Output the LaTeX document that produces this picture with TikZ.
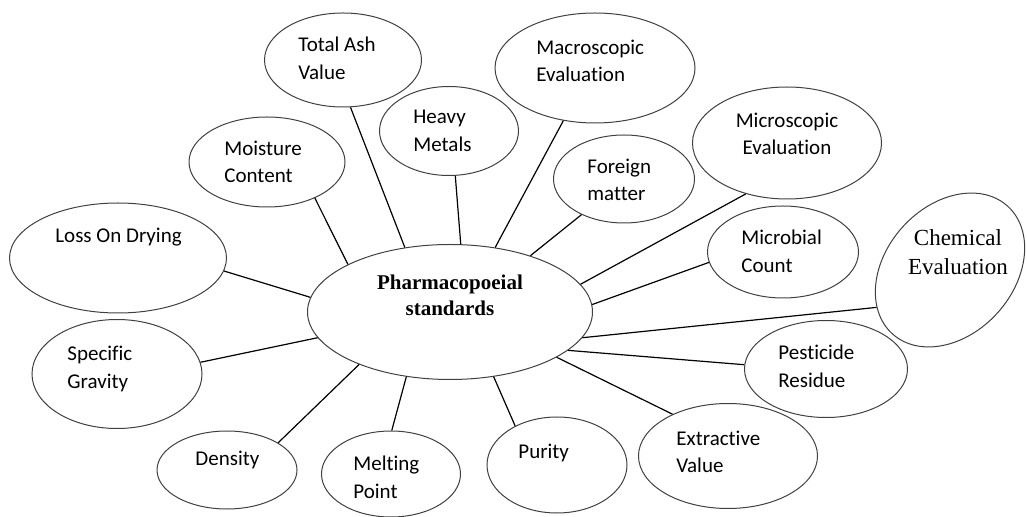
\documentclass[tikz,border=0pt]{standalone}
\usepackage{fontspec}
\setmainfont[Ligatures=NoCommon]{Carlito}
\newfontfamily\timesfont{Liberation Serif}
\usetikzlibrary{shapes.geometric}

\tikzset{
  bubble/.style={ellipse, draw=black!75, line width=0.5pt, inner sep=0pt},
  lbl/.style={anchor=west, align=left, inner sep=0pt, font=\fontsize{10.5}{13.8}\selectfont},
  link/.style={line width=0.6pt},
}

\begin{document}
\begin{tikzpicture}[x=0.5pt, y=-0.5pt]
\useasboundingbox (0,0) rectangle (1027,517);

% 中心の楕円
\node[bubble, minimum width=142.5pt, minimum height=67.5pt] (ps) at (450,312) {};
\node[inner sep=0pt, align=center, font=\timesfont\bfseries\fontsize{10.5}{13}\selectfont] (ps-t) at (450,295) {Pharmacopoeial\\standards};

% 周りの楕円 (name/x/y/幅/高さ)
\foreach \name/\x/\y/\w/\h in {
    tav/343/60/157/94,
    hm/449/131/139/89,
    mac/595/68/200/110,
    mc/267/162/156/90,
    fm/624/179/141/88,
    mic/787/143/189/112,
    lod/118/258/217/110,
    mbc/783/252/151/92,
    sg/117/374/170/109,
    pr/826/369/163/97,
    den/227/470/140/78,
    mp/391/474/139/86,
    pur/557/465/140/96,
    ev/728/456/179/105} {
    \node[bubble, minimum width=\w*0.5pt, minimum height=\h*0.5pt] (\name) at (\x,\y) {};
}
% 傾いた楕円
\node[bubble, rotate=48, minimum width=86pt, minimum height=64pt] (ce) at (950,270) {};

% ラベル(左寄せ)
\foreach \name/\x/\y/\lab in {
    tav/298/58/{Total Ash\\Value},
    hm/413/131/{Heavy\\Metals},
    mac/536/61/{Macroscopic\\Evaluation},
    mc/224/162/{Moisture\\Content},
    fm/587/180/{Foreign\\matter},
    lod/55/237/{Loss On Drying},
    mbc/741/251/{Microbial\\Count},
    sg/67/369/{Specific\\Gravity},
    pr/778/366/{Pesticide\\Residue},
    den/195/460/{Density},
    mp/353/477/{Melting\\Point},
    pur/518/453/{Purity},
    ev/676/452/{Extractive\\Value}} {
    \node[lbl] (\name-t) at (\x,\y) {\lab};
}
\node[lbl, anchor=center, align=center] (mic-t) at (787,134) {Microscopic\\Evaluation};
\node[inner sep=0pt, align=center, font=\timesfont\fontsize{11.5}{14.5}\selectfont] (ce-t) at (958,252) {Chemical\\Evaluation};

% 線 (楕円の角度/中心の角度)
\foreach \a/\b/\c in {
    tav/279/125,
    hm/278/81,
    mac/239/55,
    mc/323/155,
    fm/220/35,
    mic/231/12,
    lod/353/174,
    mbc/188/3,
    ce/159/349,
    sg/8/191,
    pr/177/342,
    den/28/210,
    mp/89/236,
    pur/137/304,
    ev/143/337} {
    \draw[link] (\a.\b) -- (ps.\c);
}
\end{tikzpicture}
\end{document}
